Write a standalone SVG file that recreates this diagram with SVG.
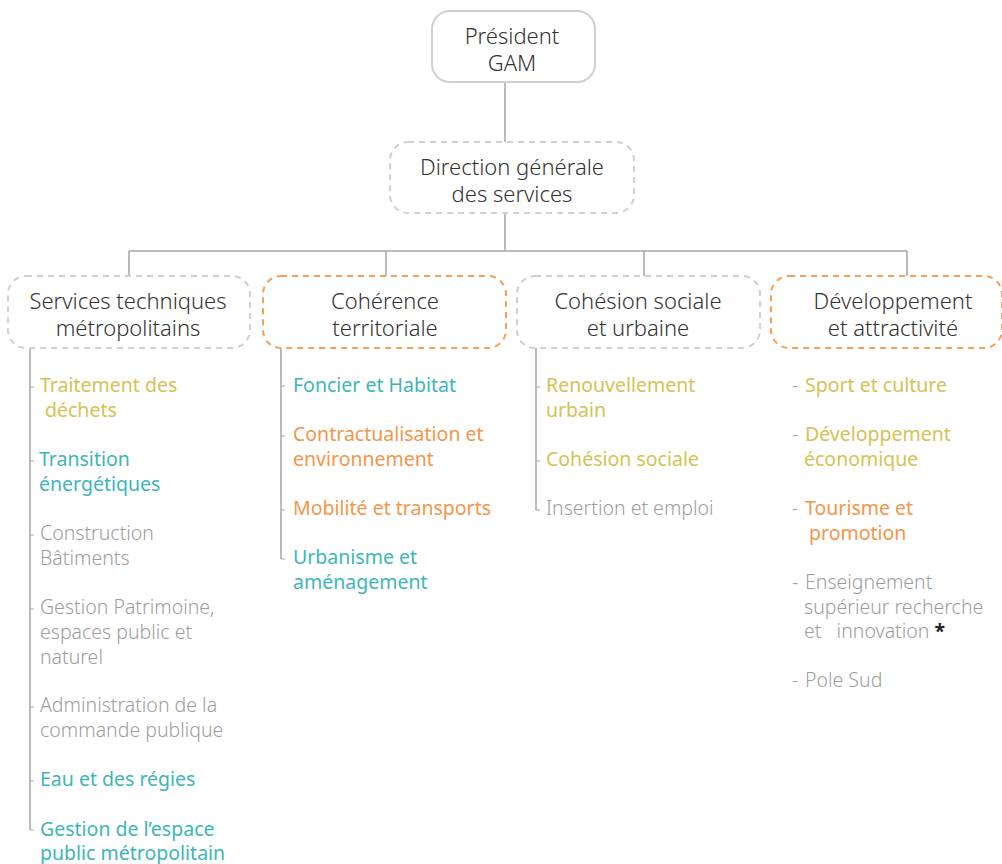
<svg xmlns="http://www.w3.org/2000/svg" width="1002" height="864" viewBox="0 0 1002 864">
<style>
.bg{fill:#ffffff}
.box{fill:#ffffff;stroke-width:2}
.solid{stroke:#d0d0d0}
.dgray{stroke:#d0d0d0;stroke-dasharray:6 5}
.dorange{stroke:#f5a05a;stroke-dasharray:6 5}
.ttl{font-family:"Noto Sans","Open Sans",sans-serif;font-size:22px;font-weight:300;fill:#333333;text-anchor:middle}
.it{font-family:"Noto Sans","Open Sans",sans-serif;font-size:19.5px}
.y{fill:#d7c155}
.t{fill:#3db6b9}
.o{fill:#f5954a}
.g{fill:#9d9d9d;font-weight:300}
.dash{fill:#a8a8a8;font-weight:300}
.ln{stroke:#a6a6a6;stroke-width:1.5;fill:none}
.tk{stroke:#a6a6a6;stroke-width:1;fill:none}
</style>
<rect class="bg" x="0" y="0" width="1002" height="864"/>
<g id="connectors">
<path class="ln" d="M505 82V142M505 213V251M129 251H907M129 251V276M386 251V276M644 251V276M907 251V276"/>
<path class="ln" d="M30 348V830M281 348V559M536 348V510"/>
<path class="tk" d="M30 387H34M30 461H34M30 535H34M30 609H34M30 707H34M30 781H34M30 830H34M281 386H285M281 436H285M281 510H285M281 559H285M536 387H540M536 461H540M536 510H540"/>
</g>
<g id="president">
<rect class="box solid" x="432" y="11" width="163" height="71" rx="18"/>
<text class="ttl" x="512" y="44">Président<tspan x="512" dy="27">GAM</tspan></text>
</g>
<g id="dgs">
<rect class="box dgray" x="390" y="142" width="244" height="71" rx="18"/>
<text class="ttl" x="512" y="175">Direction générale<tspan x="512" dy="27">des services</tspan></text>
</g>
<g id="stm">
<rect class="box dgray" x="8" y="276" width="242" height="72" rx="18"/>
<text class="ttl" x="128" y="309">Services techniques<tspan x="128" dy="27">métropolitains</tspan></text>
</g>
<g id="ct">
<rect class="box dorange" x="263" y="276" width="243" height="72" rx="18"/>
<text class="ttl" x="385" y="309">Cohérence<tspan x="385" dy="27">territoriale</tspan></text>
</g>
<g id="csu">
<rect class="box dgray" x="517" y="276" width="243" height="72" rx="18"/>
<text class="ttl" x="638" y="309">Cohésion sociale<tspan x="638" dy="27">et urbaine</tspan></text>
</g>
<g id="da">
<rect class="box dorange" x="771" y="276" width="231" height="72" rx="18"/>
<text class="ttl" x="893" y="309">Développement<tspan x="893" dy="27">et attractivité</tspan></text>
</g>
<g id="list-stm" class="it">
<text class="y" x="40" y="392">Traitement des<tspan x="45" dy="25">déchets</tspan></text>
<text class="t" x="39" y="466">Transition<tspan x="39" dy="25">énergétiques</tspan></text>
<text class="g" x="40" y="540">Construction<tspan x="40" dy="25">Bâtiments</tspan></text>
<text class="g" x="40" y="614">Gestion Patrimoine,<tspan x="40" dy="25">espaces public et</tspan><tspan x="40" dy="25">naturel</tspan></text>
<text class="g" x="40" y="712">Administration de la<tspan x="40" dy="25">commande publique</tspan></text>
<text class="t" x="40" y="786">Eau et des régies</text>
<text class="t" x="40" y="836">Gestion de l’espace<tspan x="40" dy="24">public métropolitain</tspan></text>
</g>
<g id="list-ct" class="it">
<text class="t" x="293" y="392">Foncier et Habitat</text>
<text class="o" x="293" y="441">Contractualisation et<tspan x="293" dy="25">environnement</tspan></text>
<text class="o" x="293" y="515">Mobilité et transports</text>
<text class="t" x="293" y="564">Urbanisme et<tspan x="293" dy="25">aménagement</tspan></text>
</g>
<g id="list-csu" class="it">
<text class="y" x="546" y="392">Renouvellement<tspan x="546" dy="25">urbain</tspan></text>
<text class="y" x="546" y="466">Cohésion sociale</text>
<text class="g" x="546" y="515">Insertion et emploi</text>
</g>
<g id="list-da" class="it">
<text class="dash" x="792" y="392">-</text>
<text class="y" x="805" y="392">Sport et culture</text>
<text class="dash" x="792" y="441">-</text>
<text class="y" x="805" y="441">Développement<tspan x="804" dy="25">économique</tspan></text>
<text class="dash" x="792" y="515">-</text>
<text class="o" x="805" y="515">Tourisme et<tspan x="809" dy="25">promotion</tspan></text>
<text class="dash" x="792" y="589">-</text>
<text class="g" x="805" y="589" xml:space="preserve">Enseignement<tspan x="804" dy="25">supérieur recherche</tspan><tspan x="804" dy="24">et   innovation </tspan><tspan style="fill:#222;font-weight:700">*</tspan></text>
<text class="dash" x="792" y="687">-</text>
<text class="g" x="805" y="687">Pole Sud</text>
</g>
</svg>
